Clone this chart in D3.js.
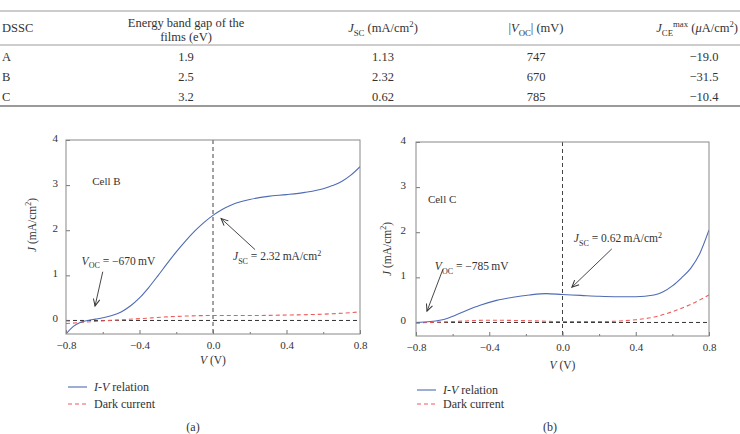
<!DOCTYPE html>
<html>
<head>
<meta charset="utf-8">
<script src="https://cdn.jsdelivr.net/npm/d3@7"></script>
<style>
  body { margin: 0; background: #fff; }
  text { font-family: "Liberation Serif", "DejaVu Serif", serif; fill: #333; }
</style>
</head>
<body>
<svg id="chart" width="740" height="434"></svg>
<script>
// table values
var dsscNames = ["A", "B", "C"];
var bandGaps = ["1.9", "2.5", "3.2"];
var jscValues = ["1.13", "2.32", "0.62"];
var vocValues = ["747", "670", "785"];
var jceMaxValues = ["\u221219.0", "\u221231.5", "\u221210.4"];

// axis ticks (both panels)
var xTicks = [-0.8, -0.4, 0, 0.4, 0.8];
var xMinorTicks = [-0.6, -0.2, 0.2, 0.6];
var yTicks = [0, 1, 2, 3, 4];

// cell B, I-V relation
var voltB = [-0.8, -0.76, -0.72, -0.68, -0.64, -0.6, -0.55, -0.5, -0.45, -0.4, -0.35, -0.3, -0.25, -0.2, -0.15, -0.1, -0.05, 0, 0.05, 0.1, 0.15, 0.2, 0.3, 0.4, 0.5, 0.6, 0.65, 0.7, 0.75, 0.8];
var ivB = [-0.3, -0.13, -0.04, 0.0, 0.03, 0.06, 0.11, 0.19, 0.32, 0.5, 0.73, 0.99, 1.26, 1.52, 1.76, 1.98, 2.17, 2.33, 2.46, 2.56, 2.63, 2.68, 2.75, 2.79, 2.84, 2.92, 2.99, 3.08, 3.22, 3.41];
// cell B, dark current
var darkVoltB = [-0.8, -0.6, -0.4, -0.2, 0, 0.2, 0.4, 0.6, 0.7, 0.8];
var darkB = [-0.07, -0.01, 0.04, 0.09, 0.11, 0.11, 0.12, 0.14, 0.16, 0.19];

// cell C, I-V relation
var voltC = [-0.8, -0.72, -0.63, -0.54, -0.45, -0.36, -0.27, -0.18, -0.09, 0, 0.1, 0.2, 0.3, 0.4, 0.5, 0.55, 0.6, 0.65, 0.7, 0.75, 0.8];
var ivC = [0, 0.02, 0.09, 0.24, 0.38, 0.49, 0.56, 0.61, 0.64, 0.62, 0.6, 0.58, 0.57, 0.57, 0.61, 0.68, 0.81, 0.99, 1.2, 1.53, 2.05];
// cell C, dark current
var darkVoltC = [-0.8, -0.6, -0.4, -0.2, 0, 0.2, 0.3, 0.4, 0.5, 0.6, 0.7, 0.8];
var darkC = [-0.01, 0.02, 0.05, 0.04, 0.02, 0.02, 0.03, 0.06, 0.12, 0.24, 0.4, 0.61];

var svg = d3.select("#chart");
var blue = "#4f6bb5", red = "#ee5a5a";

// text with italic / sub / sup pieces
function rich(txt, parts, fs) {
  var shift = 0;
  parts.forEach(function (p) {
    var ts = txt.append("tspan").text(p[0]);
    var want = p[1] == "sub" ? fs * 0.3 : p[1] == "sup" ? -fs * 0.4 : 0;
    if (want != shift) { ts.attr("dy", want - shift); shift = want; }
    if (p[1] == "i") ts.style("font-style", "italic");
    if (p[1] == "sub" || p[1] == "sup") ts.style("font-size", (fs * 0.7) + "px");
  });
  return txt;
}

// ---------- table ----------
var tbl = svg.append("g").style("font-size", "12.5px");
[[11, 1.2], [45, 1], [106, 2]].forEach(function (r) {
  tbl.append("line").attr("x1", 0).attr("x2", 740).attr("y1", r[0]).attr("y2", r[0])
    .attr("stroke", "#9a9a9a").attr("stroke-width", r[1]);
});
var colX = [2, 186, 383, 536, 704];
tbl.append("text").attr("x", colX[0]).attr("y", 32).text("DSSC");
tbl.append("text").attr("x", colX[1]).attr("y", 27).attr("text-anchor", "middle").text("Energy band gap of the");
tbl.append("text").attr("x", colX[1]).attr("y", 41).attr("text-anchor", "middle").text("films (eV)");
rich(tbl.append("text").attr("x", colX[2]).attr("y", 32).attr("text-anchor", "middle"),
  [["J", "i"], ["SC", "sub"], [" (mA/cm", "n"], ["2", "sup"], [")", "n"]], 12.5);
rich(tbl.append("text").attr("x", colX[3]).attr("y", 32).attr("text-anchor", "middle"),
  [["|", "n"], ["V", "i"], ["OC", "sub"], ["| (mV)", "n"]], 12.5);
rich(tbl.append("text").attr("x", 738).attr("y", 32).attr("text-anchor", "end"),
  [["J", "i"], ["CE", "sub"], ["max", "sup"], [" (", "n"], ["\u03bc", "i"], ["A/cm", "n"], ["2", "sup"], [")", "n"]], 12.5);

var rowY = d3.scalePoint().domain(dsscNames).range([61, 101]);
dsscNames.forEach(function (d, i) {
  var yy = rowY(d);
  tbl.append("text").attr("x", colX[0]).attr("y", yy).text(d);
  [bandGaps, jscValues, vocValues, jceMaxValues].forEach(function (col, c) {
    tbl.append("text").attr("x", colX[c + 1]).attr("y", yy).attr("text-anchor", "middle").text(col[i]);
  });
});

// arrow head
svg.append("defs").append("marker")
  .attr("id", "arr").attr("viewBox", "-8 -5 10 10").attr("refX", 0).attr("refY", 0)
  .attr("markerWidth", 10).attr("markerHeight", 10).attr("markerUnits", "userSpaceOnUse")
  .attr("orient", "auto")
  .append("path").attr("d", "M-7,-3.2 L0,0 L-7,3.2").attr("fill", "none").attr("stroke", "#333").attr("stroke-width", 1);

// ---------- panels ----------
function drawPanel(p) {
  var x = d3.scaleLinear().domain([-0.8, 0.8]).range([p.left, p.right]);
  var y = d3.scaleLinear().domain([-0.3, 4]).range([p.bottom, p.top]);
  var g = svg.append("g");

  g.append("clipPath").attr("id", p.id + "clip").append("rect")
    .attr("x", p.left).attr("y", p.top).attr("width", p.right - p.left).attr("height", p.bottom - p.top);
  var plot = g.append("g").attr("clip-path", "url(#" + p.id + "clip)");

  plot.append("line").attr("x1", x(0)).attr("x2", x(0)).attr("y1", p.top).attr("y2", p.bottom)
    .attr("stroke", "#444").attr("stroke-dasharray", "4,3");
  plot.append("line").attr("x1", p.left).attr("x2", p.right).attr("y1", y(0)).attr("y2", y(0))
    .attr("stroke", "#333").attr("stroke-dasharray", "4,3");

  var line = d3.line().x(function (d) { return x(d[0]); }).y(function (d) { return y(d[1]); })
    .curve(d3.curveMonotoneX);
  plot.append("path").datum(d3.zip(p.darkV, p.dark)).attr("fill", "none")
    .attr("stroke", red).attr("stroke-width", 1.1).attr("stroke-dasharray", "4,3").attr("d", line);
  plot.append("path").datum(d3.zip(p.ivV, p.iv)).attr("fill", "none")
    .attr("stroke", blue).attr("stroke-width", 1.1).attr("d", line);

  // axes
  g.append("g").attr("transform", "translate(0," + p.bottom + ")")
    .call(d3.axisBottom(x).tickValues(xTicks).tickFormat(d3.format(".1f")).tickSizeInner(-4).tickSizeOuter(0).tickPadding(7));
  g.append("g").attr("transform", "translate(0," + p.bottom + ")")
    .call(d3.axisBottom(x).tickValues(xMinorTicks).tickFormat("").tickSize(-2).tickSizeOuter(0));
  g.append("g").attr("class", "yax").attr("transform", "translate(" + p.left + ",0)")
    .call(d3.axisLeft(y).tickValues(yTicks).tickFormat(d3.format("d")).tickSizeInner(-4).tickSizeOuter(0).tickPadding(p.ypad));
  g.selectAll(".domain").remove();
  g.selectAll(".tick line").attr("stroke", "#777");
  g.selectAll(".tick text").style("font-family", "'Liberation Serif', serif").style("font-size", "11px").attr("fill", "#333");
  g.selectAll(".yax .tick text").attr("dy", "0.1em");

  g.append("rect").attr("x", p.left).attr("y", p.top).attr("width", p.right - p.left).attr("height", p.bottom - p.top)
    .attr("fill", "none").attr("stroke", "#888").attr("stroke-width", 1);

  // axis titles
  rich(g.append("text").attr("x", x(0)).attr("y", p.xTitleY).attr("text-anchor", "middle").style("font-size", "11.5px"),
    [["V", "i"], [" (V)", "n"]], 11.5);
  rich(g.append("text").attr("transform", "translate(" + p.yTitleX + "," + p.yTitleY + ") rotate(-90)")
    .attr("text-anchor", "middle").style("font-size", "11.5px"),
    [["J", "i"], [" (mA/cm", "n"], ["2", "sup"], [")", "n"]], 11.5);

  // annotations
  g.append("text").attr("x", x(p.cell[0])).attr("y", y(p.cell[1])).style("font-size", "11px").text(p.cell[2]);
  rich(g.append("text").attr("x", x(p.vocLab[0])).attr("y", y(p.vocLab[1])).style("font-size", "11.5px"),
    [["V", "i"], ["OC", "sub"], [" = \u2212" + p.vocLab[2] + "\u2009mV", "n"]], 11.5);
  rich(g.append("text").attr("x", x(p.jscLab[0])).attr("y", y(p.jscLab[1])).style("font-size", "11.5px"),
    [["J", "i"], ["SC", "sub"], [" = " + p.jscLab[2] + "\u2009mA/cm", "n"], ["2", "sup"]], 11.5);
  p.arrows.forEach(function (a) {
    g.append("line").attr("x1", x(a[0])).attr("y1", y(a[1])).attr("x2", x(a[2])).attr("y2", y(a[3]))
      .attr("stroke", "#333").attr("stroke-width", 0.9).attr("marker-end", "url(#arr)");
  });

  // legend
  var lg = g.append("g").attr("transform", "translate(" + p.legX + "," + p.legY + ")");
  lg.append("line").attr("x1", 0).attr("x2", 19).attr("y1", 0).attr("y2", 0).attr("stroke", blue).attr("stroke-width", 1.1);
  lg.append("line").attr("x1", 0).attr("x2", 19).attr("y1", p.legGap).attr("y2", p.legGap)
    .attr("stroke", red).attr("stroke-width", 1.1).attr("stroke-dasharray", "4,3");
  rich(lg.append("text").attr("x", 26).attr("y", 4).style("font-size", "12px"),
    [["I", "i"], ["-", "n"], ["V", "i"], [" relation", "n"]], 12);
  lg.append("text").attr("x", 26).attr("y", p.legGap + 4).style("font-size", "12px").text("Dark current");

  g.append("text").attr("x", p.capX).attr("y", 431).attr("text-anchor", "middle").style("font-size", "12px").text(p.cap);
}

drawPanel({
  id: "a", left: 66, right: 360, top: 140, bottom: 334, ypad: 8,
  ivV: voltB, iv: ivB, darkV: darkVoltB, dark: darkB,
  xTitleY: 364, yTitleX: 36, yTitleY: 225,
  cell: [-0.657, 3.01, "Cell B"],
  vocLab: [-0.715, 1.24, "670"],
  jscLab: [0.109, 1.33, "2.32"],
  arrows: [[-0.6, 1.08, -0.642, 0.32], [0.229, 1.57, 0.044, 2.26]],
  legX: 68, legY: 387, legGap: 17, capX: 193, cap: "(a)"
});
drawPanel({
  id: "b", left: 416, right: 709, top: 142, bottom: 336, ypad: 10,
  ivV: voltC, iv: ivC, darkV: darkVoltC, dark: darkC,
  xTitleY: 369, yTitleX: 391, yTitleY: 249,
  cell: [-0.735, 2.65, "Cell C"],
  vocLab: [-0.697, 1.16, "785"],
  jscLab: [0.062, 1.78, "0.62"],
  arrows: [[0.269, 1.63, 0.051, 0.78], [-0.653, 1.18, -0.74, 0.25]],
  legX: 417, legY: 390, legGap: 14, capX: 550, cap: "(b)"
});
</script>
</body>
</html>
